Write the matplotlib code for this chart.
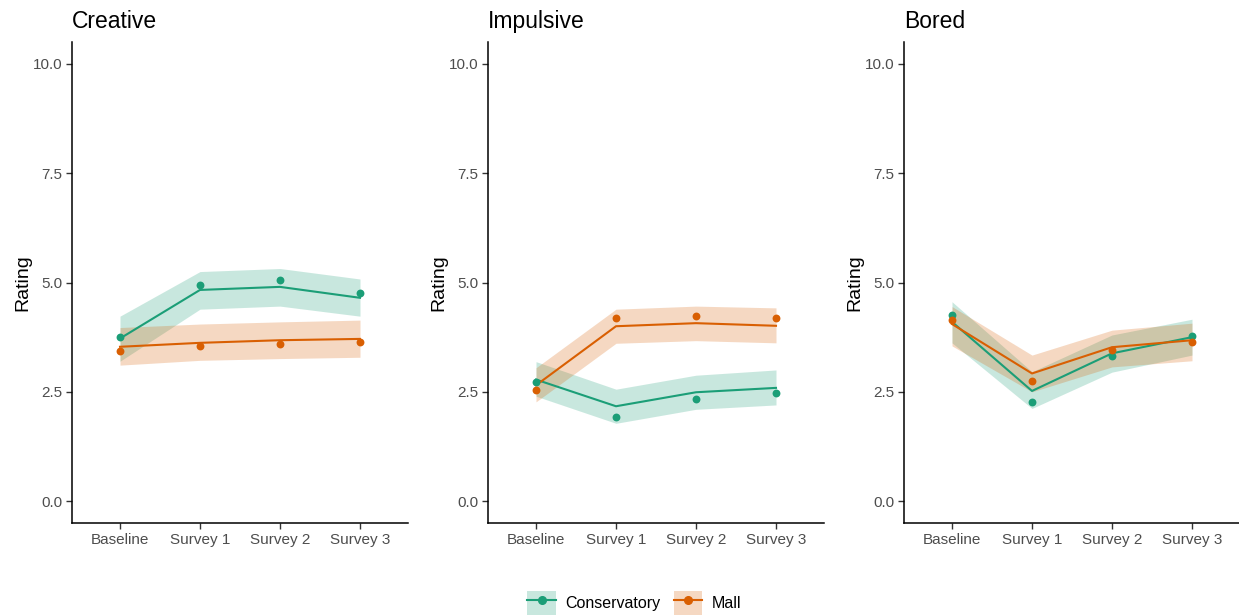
import matplotlib.pyplot as plt
from matplotlib.patches import Patch
from matplotlib.lines import Line2D

plt.rcParams['font.family'] = ['Liberation Sans', 'DejaVu Sans']

surveys = ["Baseline", "Survey 1", "Survey 2", "Survey 3"]
panels = ["Creative", "Impulsive", "Bored"]

# observed means (points)
cons_pts = {"Creative": [3.75, 4.94, 5.06, 4.76],
            "Impulsive": [2.73, 1.92, 2.34, 2.47],
            "Bored": [4.26, 2.26, 3.33, 3.77]}
mall_pts = {"Creative": [3.43, 3.54, 3.59, 3.64],
            "Impulsive": [2.54, 4.18, 4.24, 4.19],
            "Bored": [4.14, 2.74, 3.46, 3.65]}

# model estimates (lines)
cons_fit = {"Creative": [3.72, 4.83, 4.90, 4.65],
            "Impulsive": [2.78, 2.17, 2.49, 2.59],
            "Bored": [4.10, 2.52, 3.38, 3.75]}
mall_fit = {"Creative": [3.53, 3.62, 3.68, 3.71],
            "Impulsive": [2.65, 4.00, 4.07, 4.01],
            "Bored": [4.05, 2.92, 3.52, 3.68]}

# confidence bands
cons_lo = {"Creative": [3.20, 4.39, 4.46, 4.23],
           "Impulsive": [2.40, 1.78, 2.10, 2.20],
           "Bored": [3.62, 2.12, 2.95, 3.34]}
cons_hi = {"Creative": [4.23, 5.25, 5.32, 5.08],
           "Impulsive": [3.19, 2.56, 2.88, 3.00],
           "Bored": [4.56, 2.96, 3.80, 4.16]}
mall_lo = {"Creative": [3.11, 3.22, 3.26, 3.29],
           "Impulsive": [2.27, 3.61, 3.67, 3.62],
           "Bored": [3.55, 2.50, 3.07, 3.21]}
mall_hi = {"Creative": [3.97, 4.05, 4.10, 4.14],
           "Impulsive": [3.05, 4.39, 4.46, 4.42],
           "Bored": [4.45, 3.34, 3.91, 4.07]}

green = "#1B9E77"
orange = "#D95F02"

fig = plt.figure(figsize=(12.39, 6.16), dpi=100)
W, H = 1239, 616
lefts = [72, 488, 904]
x = range(len(surveys))

for p, left in zip(panels, lefts):
    ax = fig.add_axes([left / W, 1 - 523 / H, 336 / W, (523 - 42) / H])
    ax.fill_between(x, cons_lo[p], cons_hi[p], color=green, alpha=0.24, lw=0)
    ax.fill_between(x, mall_lo[p], mall_hi[p], color=orange, alpha=0.24, lw=0)
    ax.plot(x, cons_fit[p], color=green, lw=1.5)
    ax.plot(x, mall_fit[p], color=orange, lw=1.5)
    ax.scatter(x, cons_pts[p], color=green, s=32, zorder=3, lw=0)
    ax.scatter(x, mall_pts[p], color=orange, s=32, zorder=3, lw=0)
    ax.set_xlim(-0.6, 3.6)
    ax.set_ylim(-0.5, 10.5)
    ax.set_xticks(list(x))
    ax.set_xticklabels(surveys)
    ax.set_yticks([0, 2.5, 5, 7.5, 10])
    ax.set_yticklabels(["0.0", "2.5", "5.0", "7.5", "10.0"])
    for s in ["top", "right"]:
        ax.spines[s].set_visible(False)
    for s in ["left", "bottom"]:
        ax.spines[s].set_linewidth(1.1)
    ax.tick_params(length=4, width=1, color="#333333", labelcolor="#4D4D4D",
                   labelsize=11, pad=3)
    ax.set_ylabel("Rating", fontsize=14, labelpad=1)
    ax.set_title(p, loc="left", fontsize=16.5, pad=10)

handles = [(Patch(facecolor=green, alpha=0.24, lw=0),
            Line2D([], [], color=green, marker="o", ms=5.5)),
           (Patch(facecolor=orange, alpha=0.24, lw=0),
            Line2D([], [], color=orange, marker="o", ms=5.5))]
fig.legend(handles, ["Conservatory", "Mall"], loc="center", ncol=2,
           bbox_to_anchor=(0.512, 1 - 603 / H), frameon=False, fontsize=11.5,
           handlelength=1.8, handleheight=1.9, columnspacing=0.8, handletextpad=0.6)

fig.savefig("out.png", dpi=100)
